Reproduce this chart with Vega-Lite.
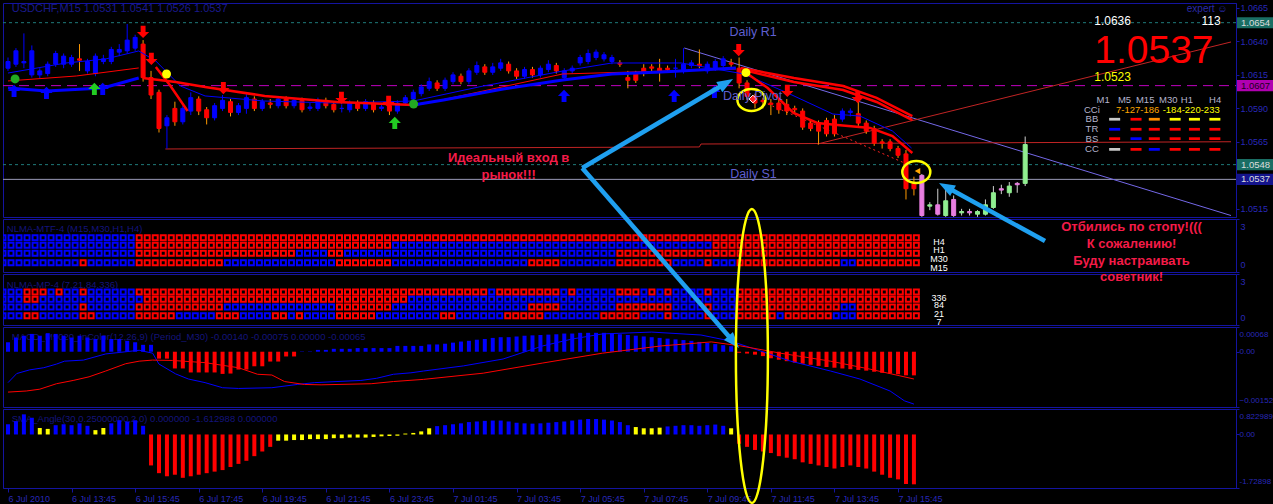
{
"$schema":"https://vega.github.io/schema/vega-lite/v6.json",
"background":"#000000",
"padding":{"left":1,"top":2,"right":0,"bottom":0},
"bounds":"flush",
"spacing":2,
"resolve":{"scale":{"x":"independent","y":"independent"}},
"config":{
 "view":{"stroke":"#1414a0","strokeWidth":1},
 "axis":{"domainColor":"#1414a0","tickColor":"#1414a0","labelColor":"#2828b8","labelFont":"Liberation Sans","labelFontSize":9,"grid":false,"tickSize":3,"labelPadding":1,"labelOverlap":false,"labelBound":false},
 "text":{"font":"Liberation Sans"},
 "legend":{"disable":true}
},
"datasets":{
"bars":[
{"i":0,"o":1.0620,"h":1.0628,"l":1.0618,"c":1.0625,"m":0.00026,"a":0.33,"H4":"B","H1":"B","M30":"B","M15":"B","P336":"B","P84":"B","P21":"B","P7":"B"},
{"i":1,"o":1.0623,"h":1.0635,"l":1.0621,"c":1.0633,"m":0.00039,"a":0.43,"H4":"B","H1":"B","M30":"B","M15":"B","P336":"B","P84":"B","P21":"B","P7":"B"},
{"i":2,"o":1.0624,"h":1.0646,"l":1.0620,"c":1.0625,"m":0.00044,"a":0.65,"H4":"B","H1":"B","M30":"B","M15":"B","P336":"B","P84":"B","P21":"B","P7":"B"},
{"i":3,"o":1.0615,"h":1.0637,"l":1.0613,"c":1.0633,"m":0.00049,"a":0.54,"H4":"B","H1":"B","M30":"B","M15":"B","P336":"R","P84":"R","P21":"B","P7":"R"},
{"i":4,"o":1.0615,"h":1.0620,"l":1.0612,"c":1.0618,"m":0.00044,"a":0.21,"H4":"B","H1":"B","M30":"B","M15":"B","P336":"R","P84":"R","P21":"B","P7":"R"},
{"i":5,"o":1.0616,"h":1.0625,"l":1.0614,"c":1.0623,"m":0.00051,"a":0.18,"H4":"B","H1":"B","M30":"B","M15":"B","P336":"R","P84":"B","P21":"B","P7":"B"},
{"i":6,"o":1.0623,"h":1.0633,"l":1.0621,"c":1.0631,"m":0.00049,"a":0.30,"H4":"B","H1":"B","M30":"B","M15":"B","P336":"B","P84":"B","P21":"B","P7":"B"},
{"i":7,"o":1.0623,"h":1.0631,"l":1.0620,"c":1.0629,"m":0.00044,"a":0.33,"H4":"B","H1":"B","M30":"B","M15":"B","P336":"R","P84":"B","P21":"B","P7":"B"},
{"i":8,"o":1.0623,"h":1.0630,"l":1.0621,"c":1.0628,"m":0.00039,"a":0.30,"H4":"B","H1":"B","M30":"B","M15":"B","P336":"B","P84":"B","P21":"B","P7":"B"},
{"i":9,"o":1.0627,"h":1.0638,"l":1.0618,"c":1.0626,"m":0.00044,"a":0.36,"H4":"B","H1":"B","M30":"B","M15":"B","P336":"B","P84":"B","P21":"B","P7":"B"},
{"i":10,"o":1.0618,"h":1.0627,"l":1.0616,"c":1.0625,"m":0.00039,"a":0.28,"H4":"B","H1":"B","M30":"B","M15":"R","P336":"R","P84":"B","P21":"R","P7":"R"},
{"i":11,"o":1.0616,"h":1.0631,"l":1.0614,"c":1.0629,"m":0.00035,"a":0.14,"H4":"B","H1":"B","M30":"B","M15":"B","P336":"B","P84":"B","P21":"B","P7":"R"},
{"i":12,"o":1.0625,"h":1.0630,"l":1.0623,"c":1.0627,"m":0.00044,"a":0.21,"H4":"B","H1":"B","M30":"B","M15":"B","P336":"B","P84":"B","P21":"B","P7":"B"},
{"i":13,"o":1.0625,"h":1.0636,"l":1.0623,"c":1.0634,"m":0.00035,"a":0.36,"H4":"B","H1":"B","M30":"B","M15":"B","P336":"B","P84":"B","P21":"B","P7":"B"},
{"i":14,"o":1.0632,"h":1.0638,"l":1.0629,"c":1.0634,"m":0.00035,"a":0.46,"H4":"B","H1":"B","M30":"B","M15":"B","P336":"B","P84":"B","P21":"B","P7":"B"},
{"i":15,"o":1.0633,"h":1.0653,"l":1.0631,"c":1.0641,"m":0.00030,"a":0.42,"H4":"B","H1":"B","M30":"B","M15":"B","P336":"B","P84":"B","P21":"B","P7":"B"},
{"i":16,"o":1.0635,"h":1.0645,"l":1.0633,"c":1.0643,"m":0.00026,"a":0.46,"H4":"B","H1":"B","M30":"B","M15":"B","P336":"B","P84":"B","P21":"B","P7":"B"},
{"i":17,"o":1.0638,"h":1.0641,"l":1.0610,"c":1.0613,"m":0.00019,"a":0.28,"H4":"R","H1":"R","M30":"R","M15":"R","P336":"R","P84":"B","P21":"R","P7":"R"},
{"i":18,"o":1.0613,"h":1.0618,"l":1.0597,"c":1.0600,"m":0.00019,"a":-1.0,"H4":"R","H1":"R","M30":"R","M15":"R","P336":"R","P84":"R","P21":"R","P7":"R"},
{"i":19,"o":1.0602,"h":1.0604,"l":1.0572,"c":1.0575,"m":-0.00019,"a":-1.25,"H4":"R","H1":"R","M30":"R","M15":"R","P336":"R","P84":"R","P21":"R","P7":"R"},
{"i":20,"o":1.0577,"h":1.0585,"l":1.0560,"c":1.0583,"m":-0.00019,"a":-1.35,"H4":"R","H1":"R","M30":"R","M15":"R","P336":"R","P84":"R","P21":"R","P7":"R"},
{"i":21,"o":1.0590,"h":1.0595,"l":1.0577,"c":1.0580,"m":-0.00046,"a":-1.3,"H4":"R","H1":"R","M30":"R","M15":"R","P336":"R","P84":"R","P21":"R","P7":"R"},
{"i":22,"o":1.0580,"h":1.0592,"l":1.0578,"c":1.0590,"m":-0.00046,"a":-1.4,"H4":"R","H1":"R","M30":"R","M15":"R","P336":"R","P84":"R","P21":"R","P7":"B"},
{"i":23,"o":1.0588,"h":1.0602,"l":1.0585,"c":1.0598,"m":-0.00057,"a":-1.35,"H4":"R","H1":"R","M30":"R","M15":"R","P336":"R","P84":"R","P21":"R","P7":"B"},
{"i":24,"o":1.0597,"h":1.0599,"l":1.0585,"c":1.0588,"m":-0.00057,"a":-1.3,"H4":"R","H1":"R","M30":"R","M15":"R","P336":"R","P84":"R","P21":"R","P7":"B"},
{"i":25,"o":1.0589,"h":1.0591,"l":1.0578,"c":1.0583,"m":-0.00057,"a":-1.25,"H4":"R","H1":"R","M30":"R","M15":"R","P336":"R","P84":"R","P21":"R","P7":"B"},
{"i":26,"o":1.0583,"h":1.0594,"l":1.0581,"c":1.0592,"m":-0.00057,"a":-1.2,"H4":"R","H1":"R","M30":"R","M15":"R","P336":"R","P84":"R","P21":"R","P7":"B"},
{"i":27,"o":1.0590,"h":1.0600,"l":1.0588,"c":1.0596,"m":-0.00061,"a":-1.15,"H4":"R","H1":"R","M30":"R","M15":"R","P336":"R","P84":"R","P21":"R","P7":"R"},
{"i":28,"o":1.0595,"h":1.0597,"l":1.0584,"c":1.0587,"m":-0.00060,"a":-1.05,"H4":"R","H1":"R","M30":"R","M15":"B","P336":"R","P84":"R","P21":"B","P7":"R"},
{"i":29,"o":1.0587,"h":1.0594,"l":1.0585,"c":1.0592,"m":-0.00049,"a":-0.95,"H4":"R","H1":"R","M30":"R","M15":"B","P336":"R","P84":"R","P21":"B","P7":"R"},
{"i":30,"o":1.0590,"h":1.0601,"l":1.0586,"c":1.0598,"m":-0.00049,"a":-0.85,"H4":"R","H1":"R","M30":"R","M15":"B","P336":"R","P84":"R","P21":"B","P7":"B"},
{"i":31,"o":1.0597,"h":1.0599,"l":1.0588,"c":1.0590,"m":-0.00040,"a":-0.7,"H4":"R","H1":"R","M30":"R","M15":"B","P336":"R","P84":"R","P21":"B","P7":"B"},
{"i":32,"o":1.0590,"h":1.0597,"l":1.0588,"c":1.0595,"m":-0.00040,"a":-0.55,"H4":"R","H1":"R","M30":"R","M15":"B","P336":"R","P84":"R","P21":"B","P7":"B"},
{"i":33,"o":1.0594,"h":1.0597,"l":1.0590,"c":1.0593,"m":-0.00027,"a":-0.4,"H4":"R","H1":"R","M30":"R","M15":"B","P336":"R","P84":"R","P21":"B","P7":"B"},
{"i":34,"o":1.0592,"h":1.0599,"l":1.0590,"c":1.0597,"m":-0.00027,"a":-0.2,"H4":"R","H1":"R","M30":"R","M15":"B","P336":"R","P84":"R","P21":"B","P7":"R"},
{"i":35,"o":1.0597,"h":1.0599,"l":1.0590,"c":1.0592,"m":-0.00013,"a":-0.2,"H4":"R","H1":"R","M30":"R","M15":"B","P336":"R","P84":"R","P21":"B","P7":"R"},
{"i":36,"o":1.0592,"h":1.0598,"l":1.0590,"c":1.0596,"m":-0.00013,"a":-0.18,"H4":"R","H1":"R","M30":"R","M15":"B","P336":"R","P84":"R","P21":"B","P7":"B"},
{"i":37,"o":1.0596,"h":1.0598,"l":1.0587,"c":1.0589,"m":0.00001,"a":-0.18,"H4":"R","H1":"R","M30":"B","M15":"B","P336":"R","P84":"R","P21":"B","P7":"R"},
{"i":38,"o":1.0590,"h":1.0594,"l":1.0588,"c":1.0591,"m":0.00001,"a":-0.15,"H4":"R","H1":"R","M30":"B","M15":"B","P336":"R","P84":"R","P21":"B","P7":"B"},
{"i":39,"o":1.0590,"h":1.0598,"l":1.0588,"c":1.0596,"m":0.00005,"a":-0.15,"H4":"R","H1":"R","M30":"B","M15":"B","P336":"R","P84":"R","P21":"B","P7":"B"},
{"i":40,"o":1.0596,"h":1.0598,"l":1.0590,"c":1.0592,"m":0.00005,"a":-0.15,"H4":"R","H1":"R","M30":"B","M15":"B","P336":"R","P84":"R","P21":"B","P7":"B"},
{"i":41,"o":1.0593,"h":1.0595,"l":1.0587,"c":1.0589,"m":0.00008,"a":-0.12,"H4":"R","H1":"R","M30":"R","M15":"B","P336":"R","P84":"R","P21":"B","P7":"B"},
{"i":42,"o":1.0590,"h":1.0593,"l":1.0587,"c":1.0590,"m":0.00008,"a":-0.12,"H4":"R","H1":"R","M30":"R","M15":"R","P336":"R","P84":"R","P21":"R","P7":"R"},
{"i":43,"o":1.0589,"h":1.0596,"l":1.0587,"c":1.0594,"m":0.00008,"a":-0.1,"H4":"R","H1":"R","M30":"B","M15":"R","P336":"R","P84":"R","P21":"R","P7":"R"},
{"i":44,"o":1.0594,"h":1.0596,"l":1.0588,"c":1.0590,"m":0.00010,"a":-0.1,"H4":"R","H1":"R","M30":"B","M15":"R","P336":"R","P84":"R","P21":"R","P7":"R"},
{"i":45,"o":1.0590,"h":1.0597,"l":1.0588,"c":1.0595,"m":0.00010,"a":-0.1,"H4":"R","H1":"R","M30":"B","M15":"R","P336":"R","P84":"R","P21":"R","P7":"R"},
{"i":46,"o":1.0594,"h":1.0596,"l":1.0587,"c":1.0589,"m":0.00010,"a":-0.08,"H4":"R","H1":"R","M30":"B","M15":"R","P336":"R","P84":"R","P21":"R","P7":"R"},
{"i":47,"o":1.0590,"h":1.0593,"l":1.0588,"c":1.0591,"m":0.00010,"a":-0.06,"H4":"R","H1":"R","M30":"B","M15":"R","P336":"R","P84":"R","P21":"R","P7":"B"},
{"i":48,"o":1.0592,"h":1.0594,"l":1.0585,"c":1.0588,"m":0.00010,"a":-0.05,"H4":"R","H1":"R","M30":"B","M15":"R","P336":"R","P84":"R","P21":"R","P7":"B"},
{"i":49,"o":1.0588,"h":1.0596,"l":1.0586,"c":1.0594,"m":0.00016,"a":-0.04,"H4":"R","H1":"B","M30":"B","M15":"B","P336":"R","P84":"R","P21":"B","P7":"B"},
{"i":50,"o":1.0594,"h":1.0600,"l":1.0592,"c":1.0598,"m":0.00016,"a":0.03,"H4":"R","H1":"B","M30":"B","M15":"B","P336":"R","P84":"R","P21":"B","P7":"B"},
{"i":51,"o":1.0597,"h":1.0604,"l":1.0595,"c":1.0602,"m":0.00016,"a":0.05,"H4":"R","H1":"B","M30":"B","M15":"B","P336":"R","P84":"B","P21":"B","P7":"B"},
{"i":52,"o":1.0601,"h":1.0608,"l":1.0599,"c":1.0606,"m":0.00016,"a":0.10,"H4":"R","H1":"B","M30":"B","M15":"B","P336":"R","P84":"B","P21":"B","P7":"B"},
{"i":53,"o":1.0605,"h":1.0613,"l":1.0603,"c":1.0610,"m":0.00020,"a":0.20,"H4":"R","H1":"B","M30":"B","M15":"B","P336":"R","P84":"B","P21":"B","P7":"B"},
{"i":54,"o":1.0609,"h":1.0611,"l":1.0603,"c":1.0605,"m":0.00020,"a":0.27,"H4":"R","H1":"B","M30":"B","M15":"B","P336":"R","P84":"B","P21":"B","P7":"B"},
{"i":55,"o":1.0605,"h":1.0613,"l":1.0603,"c":1.0611,"m":0.00022,"a":0.30,"H4":"R","H1":"B","M30":"B","M15":"B","P336":"R","P84":"B","P21":"B","P7":"R"},
{"i":56,"o":1.0610,"h":1.0617,"l":1.0608,"c":1.0615,"m":0.00025,"a":0.33,"H4":"R","H1":"B","M30":"B","M15":"B","P336":"R","P84":"B","P21":"B","P7":"R"},
{"i":57,"o":1.0614,"h":1.0616,"l":1.0608,"c":1.0610,"m":0.00028,"a":0.36,"H4":"R","H1":"B","M30":"B","M15":"B","P336":"R","P84":"B","P21":"B","P7":"B"},
{"i":58,"o":1.0610,"h":1.0620,"l":1.0608,"c":1.0618,"m":0.00030,"a":0.40,"H4":"R","H1":"B","M30":"B","M15":"B","P336":"R","P84":"B","P21":"B","P7":"B"},
{"i":59,"o":1.0617,"h":1.0625,"l":1.0615,"c":1.0622,"m":0.00033,"a":0.42,"H4":"R","H1":"B","M30":"B","M15":"B","P336":"R","P84":"B","P21":"B","P7":"B"},
{"i":60,"o":1.0621,"h":1.0623,"l":1.0615,"c":1.0617,"m":0.00035,"a":0.44,"H4":"R","H1":"B","M30":"B","M15":"B","P336":"R","P84":"B","P21":"B","P7":"B"},
{"i":61,"o":1.0617,"h":1.0624,"l":1.0615,"c":1.0621,"m":0.00038,"a":0.45,"H4":"R","H1":"B","M30":"B","M15":"B","P336":"B","P84":"B","P21":"B","P7":"B"},
{"i":62,"o":1.0620,"h":1.0627,"l":1.0618,"c":1.0624,"m":0.00040,"a":0.45,"H4":"R","H1":"B","M30":"B","M15":"B","P336":"R","P84":"B","P21":"B","P7":"B"},
{"i":63,"o":1.0623,"h":1.0625,"l":1.0616,"c":1.0618,"m":0.00040,"a":0.42,"H4":"R","H1":"B","M30":"B","M15":"B","P336":"R","P84":"B","P21":"B","P7":"R"},
{"i":64,"o":1.0618,"h":1.0620,"l":1.0612,"c":1.0614,"m":0.00042,"a":0.38,"H4":"R","H1":"B","M30":"B","M15":"B","P336":"R","P84":"B","P21":"B","P7":"R"},
{"i":65,"o":1.0614,"h":1.0621,"l":1.0612,"c":1.0619,"m":0.00044,"a":0.36,"H4":"R","H1":"B","M30":"B","M15":"B","P336":"R","P84":"B","P21":"B","P7":"R"},
{"i":66,"o":1.0619,"h":1.0621,"l":1.0613,"c":1.0615,"m":0.00045,"a":0.35,"H4":"R","H1":"B","M30":"B","M15":"R","P336":"R","P84":"B","P21":"R","P7":"R"},
{"i":67,"o":1.0615,"h":1.0622,"l":1.0613,"c":1.0620,"m":0.00046,"a":0.36,"H4":"R","H1":"B","M30":"B","M15":"R","P336":"R","P84":"B","P21":"R","P7":"R"},
{"i":68,"o":1.0619,"h":1.0626,"l":1.0617,"c":1.0623,"m":0.00047,"a":0.38,"H4":"R","H1":"B","M30":"B","M15":"R","P336":"R","P84":"B","P21":"R","P7":"B"},
{"i":69,"o":1.0622,"h":1.0624,"l":1.0616,"c":1.0618,"m":0.00048,"a":0.40,"H4":"R","H1":"B","M30":"B","M15":"R","P336":"R","P84":"B","P21":"R","P7":"B"},
{"i":70,"o":1.0613,"h":1.0620,"l":1.0611,"c":1.0618,"m":0.00050,"a":0.42,"H4":"R","H1":"B","M30":"B","M15":"B","P336":"B","P84":"B","P21":"B","P7":"B"},
{"i":71,"o":1.0618,"h":1.0622,"l":1.0616,"c":1.0620,"m":0.00050,"a":0.45,"H4":"R","H1":"B","M30":"B","M15":"B","P336":"R","P84":"B","P21":"B","P7":"B"},
{"i":72,"o":1.0624,"h":1.0630,"l":1.0622,"c":1.0628,"m":0.00052,"a":0.48,"H4":"R","H1":"B","M30":"B","M15":"B","P336":"B","P84":"B","P21":"B","P7":"B"},
{"i":73,"o":1.0625,"h":1.0634,"l":1.0623,"c":1.0631,"m":0.00052,"a":0.50,"H4":"R","H1":"B","M30":"B","M15":"B","P336":"B","P84":"B","P21":"B","P7":"B"},
{"i":74,"o":1.0628,"h":1.0634,"l":1.0626,"c":1.0632,"m":0.00052,"a":0.50,"H4":"R","H1":"B","M30":"B","M15":"B","P336":"B","P84":"B","P21":"B","P7":"B"},
{"i":75,"o":1.0627,"h":1.0632,"l":1.0625,"c":1.0630,"m":0.00052,"a":0.48,"H4":"R","H1":"B","M30":"B","M15":"B","P336":"B","P84":"B","P21":"B","P7":"R"},
{"i":76,"o":1.0625,"h":1.0630,"l":1.0623,"c":1.0628,"m":0.00050,"a":0.45,"H4":"R","H1":"B","M30":"B","M15":"B","P336":"B","P84":"B","P21":"B","P7":"R"},
{"i":77,"o":1.0624,"h":1.0626,"l":1.0621,"c":1.0623,"m":0.00048,"a":0.40,"H4":"R","H1":"B","M30":"R","M15":"R","P336":"R","P84":"B","P21":"R","P7":"R"},
{"i":78,"o":1.0613,"h":1.0618,"l":1.0605,"c":1.0611,"m":0.00046,"a":0.30,"H4":"R","H1":"B","M30":"R","M15":"R","P336":"R","P84":"B","P21":"R","P7":"R"},
{"i":79,"o":1.0616,"h":1.0618,"l":1.0609,"c":1.0611,"m":0.00044,"a":0.24,"H4":"R","H1":"B","M30":"R","M15":"R","P336":"R","P84":"B","P21":"R","P7":"R"},
{"i":80,"o":1.0620,"h":1.0623,"l":1.0614,"c":1.0617,"m":0.00042,"a":0.20,"H4":"R","H1":"B","M30":"R","M15":"R","P336":"B","P84":"B","P21":"R","P7":"B"},
{"i":81,"o":1.0621,"h":1.0623,"l":1.0617,"c":1.0620,"m":0.00040,"a":0.20,"H4":"R","H1":"B","M30":"R","M15":"R","P336":"R","P84":"B","P21":"R","P7":"B"},
{"i":82,"o":1.0620,"h":1.0627,"l":1.0610,"c":1.0618,"m":0.00038,"a":0.22,"H4":"R","H1":"B","M30":"R","M15":"R","P336":"B","P84":"B","P21":"R","P7":"B"},
{"i":83,"o":1.0620,"h":1.0622,"l":1.0617,"c":1.0619,"m":0.00036,"a":0.26,"H4":"R","H1":"B","M30":"R","M15":"R","P336":"R","P84":"B","P21":"R","P7":"R"},
{"i":84,"o":1.0620,"h":1.0627,"l":1.0613,"c":1.0620,"m":0.00034,"a":0.28,"H4":"R","H1":"B","M30":"R","M15":"B","P336":"B","P84":"B","P21":"B","P7":"B"},
{"i":85,"o":1.0619,"h":1.0635,"l":1.0616,"c":1.0623,"m":0.00032,"a":0.30,"H4":"R","H1":"B","M30":"R","M15":"B","P336":"B","P84":"B","P21":"B","P7":"B"},
{"i":86,"o":1.0622,"h":1.0626,"l":1.0620,"c":1.0624,"m":0.00030,"a":0.30,"H4":"R","H1":"B","M30":"R","M15":"B","P336":"B","P84":"B","P21":"B","P7":"B"},
{"i":87,"o":1.0623,"h":1.0634,"l":1.0620,"c":1.0622,"m":0.00027,"a":0.28,"H4":"R","H1":"B","M30":"R","M15":"B","P336":"B","P84":"B","P21":"B","P7":"B"},
{"i":88,"o":1.0618,"h":1.0625,"l":1.0616,"c":1.0623,"m":0.00024,"a":0.30,"H4":"R","H1":"B","M30":"R","M15":"R","P336":"R","P84":"B","P21":"R","P7":"R"},
{"i":89,"o":1.0620,"h":1.0627,"l":1.0618,"c":1.0625,"m":0.00021,"a":0.32,"H4":"R","H1":"R","M30":"R","M15":"B","P336":"B","P84":"B","P21":"B","P7":"B"},
{"i":90,"o":1.0622,"h":1.0629,"l":1.0620,"c":1.0627,"m":0.00018,"a":0.28,"H4":"R","H1":"R","M30":"R","M15":"B","P336":"B","P84":"B","P21":"B","P7":"B"},
{"i":91,"o":1.0624,"h":1.0627,"l":1.0621,"c":1.0623,"m":0.00015,"a":0.20,"H4":"R","H1":"R","M30":"R","M15":"B","P336":"B","P84":"B","P21":"B","P7":"B"},
{"i":92,"o":1.0620,"h":1.0628,"l":1.0605,"c":1.0609,"m":-0.00003,"a":-0.3,"H4":"R","H1":"R","M30":"R","M15":"R","P336":"R","P84":"R","P21":"R","P7":"R"},
{"i":93,"o":1.0609,"h":1.0611,"l":1.0596,"c":1.0599,"m":-0.00005,"a":-0.4,"H4":"R","H1":"R","M30":"R","M15":"R","P336":"R","P84":"R","P21":"R","P7":"R"},
{"i":94,"o":1.0599,"h":1.0601,"l":1.0590,"c":1.0594,"m":-0.00008,"a":-0.5,"H4":"R","H1":"R","M30":"R","M15":"R","P336":"R","P84":"R","P21":"R","P7":"R"},
{"i":95,"o":1.0596,"h":1.0598,"l":1.0590,"c":1.0595,"m":-0.00012,"a":-0.55,"H4":"R","H1":"R","M30":"R","M15":"R","P336":"R","P84":"R","P21":"R","P7":"R"},
{"i":96,"o":1.0594,"h":1.0597,"l":1.0585,"c":1.0593,"m":-0.00018,"a":-0.6,"H4":"R","H1":"R","M30":"R","M15":"R","P336":"R","P84":"R","P21":"R","P7":"R"},
{"i":97,"o":1.0594,"h":1.0597,"l":1.0586,"c":1.0589,"m":-0.00022,"a":-0.7,"H4":"R","H1":"R","M30":"R","M15":"R","P336":"R","P84":"R","P21":"R","P7":"B"},
{"i":98,"o":1.0593,"h":1.0597,"l":1.0585,"c":1.0588,"m":-0.00026,"a":-0.75,"H4":"R","H1":"R","M30":"R","M15":"R","P336":"R","P84":"R","P21":"R","P7":"R"},
{"i":99,"o":1.0590,"h":1.0592,"l":1.0586,"c":1.0589,"m":-0.00030,"a":-0.8,"H4":"R","H1":"R","M30":"R","M15":"R","P336":"R","P84":"R","P21":"R","P7":"R"},
{"i":100,"o":1.0588,"h":1.0590,"l":1.0574,"c":1.0576,"m":-0.00033,"a":-0.9,"H4":"R","H1":"R","M30":"R","M15":"R","P336":"R","P84":"R","P21":"R","P7":"R"},
{"i":101,"o":1.0579,"h":1.0581,"l":1.0573,"c":1.0575,"m":-0.00036,"a":-0.95,"H4":"R","H1":"R","M30":"R","M15":"R","P336":"R","P84":"R","P21":"R","P7":"R"},
{"i":102,"o":1.0579,"h":1.0581,"l":1.0563,"c":1.0573,"m":-0.00039,"a":-1.0,"H4":"R","H1":"R","M30":"R","M15":"R","P336":"R","P84":"R","P21":"R","P7":"R"},
{"i":103,"o":1.0581,"h":1.0583,"l":1.0569,"c":1.0571,"m":-0.00042,"a":-1.05,"H4":"R","H1":"R","M30":"R","M15":"R","P336":"R","P84":"R","P21":"R","P7":"R"},
{"i":104,"o":1.0582,"h":1.0585,"l":1.0569,"c":1.0571,"m":-0.00044,"a":-1.1,"H4":"R","H1":"R","M30":"R","M15":"R","P336":"R","P84":"R","P21":"R","P7":"B"},
{"i":105,"o":1.0582,"h":1.0590,"l":1.0580,"c":1.0588,"m":-0.00046,"a":-1.05,"H4":"R","H1":"R","M30":"R","M15":"B","P336":"R","P84":"R","P21":"B","P7":"B"},
{"i":106,"o":1.0587,"h":1.0590,"l":1.0584,"c":1.0588,"m":-0.00048,"a":-1.0,"H4":"R","H1":"R","M30":"R","M15":"B","P336":"R","P84":"R","P21":"B","P7":"B"},
{"i":107,"o":1.0586,"h":1.0598,"l":1.0577,"c":1.0579,"m":-0.00050,"a":-1.05,"H4":"R","H1":"R","M30":"R","M15":"R","P336":"R","P84":"R","P21":"R","P7":"R"},
{"i":108,"o":1.0579,"h":1.0581,"l":1.0571,"c":1.0573,"m":-0.00052,"a":-1.1,"H4":"R","H1":"R","M30":"R","M15":"R","P336":"R","P84":"R","P21":"R","P7":"R"},
{"i":109,"o":1.0575,"h":1.0577,"l":1.0562,"c":1.0564,"m":-0.00055,"a":-1.2,"H4":"R","H1":"R","M30":"R","M15":"R","P336":"R","P84":"R","P21":"R","P7":"R"},
{"i":110,"o":1.0565,"h":1.0567,"l":1.0560,"c":1.0564,"m":-0.00058,"a":-1.3,"H4":"R","H1":"R","M30":"R","M15":"R","P336":"R","P84":"R","P21":"R","P7":"R"},
{"i":111,"o":1.0565,"h":1.0567,"l":1.0558,"c":1.0560,"m":-0.00060,"a":-1.4,"H4":"R","H1":"R","M30":"R","M15":"R","P336":"R","P84":"R","P21":"R","P7":"R"},
{"i":112,"o":1.0560,"h":1.0562,"l":1.0553,"c":1.0555,"m":-0.00062,"a":-1.45,"H4":"R","H1":"R","M30":"R","M15":"R","P336":"R","P84":"R","P21":"R","P7":"R"},
{"i":113,"o":1.0556,"h":1.0559,"l":1.0522,"c":1.0530,"m":-0.00065,"a":-1.6,"H4":"R","H1":"R","M30":"R","M15":"R","P336":"R","P84":"R","P21":"R","P7":"R"},
{"i":114,"o":1.0534,"h":1.0539,"l":1.0525,"c":1.0530,"m":-0.00065,"a":-1.61,"H4":"R","H1":"R","M30":"R","M15":"R","P336":"R","P84":"R","P21":"R","P7":"R"},
{"i":115,"o":1.0540,"h":1.0541,"l":1.0509,"c":1.0510,"g":"b"},
{"i":116,"o":1.0517,"h":1.0520,"l":1.0514,"c":1.0518,"g":"b"},
{"i":117,"o":1.0518,"h":1.0530,"l":1.0510,"c":1.0511,"g":"b"},
{"i":118,"o":1.0510,"h":1.0530,"l":1.0509,"c":1.0521,"g":"b"},
{"i":119,"o":1.0522,"h":1.0525,"l":1.0509,"c":1.0510,"g":"b"},
{"i":120,"o":1.0512,"h":1.0515,"l":1.0510,"c":1.0513,"g":"b"},
{"i":121,"o":1.0513,"h":1.0515,"l":1.0510,"c":1.0512,"g":"b"},
{"i":122,"o":1.0511,"h":1.0514,"l":1.0509,"c":1.0513,"g":"b"},
{"i":123,"o":1.0511,"h":1.0522,"l":1.0510,"c":1.0518,"g":"b"},
{"i":124,"o":1.0516,"h":1.0532,"l":1.0515,"c":1.0527,"g":"b"},
{"i":125,"o":1.0530,"h":1.0533,"l":1.0526,"c":1.0529,"g":"b"},
{"i":126,"o":1.0527,"h":1.0535,"l":1.0524,"c":1.0532,"g":"b"},
{"i":127,"o":1.0534,"h":1.0535,"l":1.0527,"c":1.0533,"g":"b"},
{"i":128,"o":1.0534,"h":1.0569,"l":1.0532,"c":1.0563,"g":"b"}
],
"rows":[{"key":"H4","lv":1.94},{"key":"H1","lv":1.51},{"key":"M30","lv":1.06},{"key":"M15","lv":0.53},{"key":"P336","lv":1.94},{"key":"P84","lv":1.51},{"key":"P21","lv":1.06},{"key":"P7","lv":0.55}],
"levels":[{"name":"hi","p":1.0654},{"name":"open","p":1.0607},{"name":"lo","p":1.0548},{"name":"bid","p":1.0537}],
"ml":[
{"id":"A","i":0,"p":1.06052},{"id":"A","i":4.85,"p":1.0603},{"id":"A","i":11.96,"p":1.06052},{"id":"A","i":16.45,"p":1.06127},
{"id":"B","i":16.95,"p":1.06127},{"id":"B","i":21.1,"p":1.06097},{"id":"B","i":24.8,"p":1.0606},{"id":"B","i":32.3,"p":1.05993},{"id":"B","i":41.4,"p":1.05948},{"id":"B","i":51.0,"p":1.05925},
{"id":"C","i":51.0,"p":1.05925},{"id":"C","i":54.8,"p":1.05963},{"id":"C","i":62.3,"p":1.06045},{"id":"C","i":69.8,"p":1.06112},{"id":"C","i":76.0,"p":1.06157},{"id":"C","i":82.2,"p":1.06172},{"id":"C","i":91.6,"p":1.06202},
{"id":"D","i":92.2,"p":1.06202},{"id":"D","i":98.9,"p":1.06127},{"id":"D","i":105.1,"p":1.06067},{"id":"D","i":109.3,"p":1.05978},{"id":"D","i":113.8,"p":1.05843},
{"id":"D2","i":93.0,"p":1.0618},{"id":"D2","i":98.9,"p":1.06097},{"id":"D2","i":105.1,"p":1.06037},{"id":"D2","i":109.3,"p":1.05948},{"id":"D2","i":113.8,"p":1.05813},
{"id":"E","i":93.1,"p":1.06157},{"id":"E","i":95.6,"p":1.06052},{"id":"E","i":98.85,"p":1.05866},{"id":"E","i":101.85,"p":1.05791},{"id":"E","i":104.35,"p":1.05776},{"id":"E","i":108.5,"p":1.05754},{"id":"E","i":111.3,"p":1.05694},{"id":"E","i":113.8,"p":1.05567},
{"id":"F","i":18.6,"p":1.06209},{"id":"F","i":20.45,"p":1.06067},{"id":"F","i":22.6,"p":1.05881},
{"id":"G","i":0,"p":1.06164},{"id":"G","i":7.3,"p":1.06239},{"id":"G","i":12.3,"p":1.06269},{"id":"G","i":16.45,"p":1.06329},{"id":"G","i":18.6,"p":1.06254},{"id":"G","i":21.7,"p":1.06067},{"id":"G","i":24.8,"p":1.05993},{"id":"G","i":32.3,"p":1.05955},{"id":"G","i":41.0,"p":1.0594},{"id":"G","i":51.0,"p":1.05955},{"id":"G","i":59.8,"p":1.06067},{"id":"G","i":69.8,"p":1.06179},{"id":"G","i":76.0,"p":1.06239},{"id":"G","i":84.7,"p":1.06239},{"id":"G","i":92.6,"p":1.06157},{"id":"G","i":98.1,"p":1.06015},{"id":"G","i":103.8,"p":1.05858},{"id":"G","i":107.2,"p":1.05843},{"id":"G","i":111.3,"p":1.05731},{"id":"G","i":113.7,"p":1.05604},
{"id":"H1","i":0,"p":1.06105},{"id":"H1","i":8.6,"p":1.06142},{"id":"H1","i":16.45,"p":1.06202},
{"id":"H2","i":51.0,"p":1.05918},{"id":"H2","i":69.8,"p":1.06157},{"id":"H2","i":91.6,"p":1.06194},
{"id":"I","i":85.1,"p":1.06351},{"id":"I","i":153.9,"p":1.051},
{"id":"J","i":101.85,"p":1.05634},{"id":"J","i":153.9,"p":1.06396},
{"id":"K","i":19.8,"p":1.05597},{"id":"K","i":87.0,"p":1.05612},{"id":"K","i":87.2,"p":1.05634},{"id":"K","i":153.9,"p":1.05651},
{"id":"L","i":95.6,"p":1.05933},{"id":"L","i":113.1,"p":1.05485}
],
"sig":[
{"k":"dn","i":17.0,"p":1.06471},{"k":"dn","i":18.04,"p":1.06269},{"k":"dn","i":27.1,"p":1.06052},{"k":"dn","i":41.96,"p":1.05978},{"k":"dn","i":47.9,"p":1.05948},{"k":"dn","i":91.95,"p":1.06336},{"k":"dn","i":98.07,"p":1.0603},{"k":"dn","i":106.93,"p":1.05985},
{"k":"up","i":0.76,"p":1.0603},{"k":"up","i":4.84,"p":1.06015},{"k":"up","i":11.92,"p":1.06045},{"k":"up","i":69.97,"p":1.05993},{"k":"up","i":83.83,"p":1.05993},{"k":"up","i":88.9,"p":1.06023},
{"k":"upg","i":10.87,"p":1.06045},{"k":"upg","i":48.67,"p":1.05791},
{"k":"dotg","i":0.89,"p":1.0612},{"k":"dotg","i":51.04,"p":1.05933},
{"k":"doty","i":19.95,"p":1.06157},{"k":"doty","i":92.86,"p":1.06167}
],
"dash":[
{"i":139.26,"p":1.05819,"s":"n"},{"i":141.95,"p":1.05819,"s":"d"},{"i":144.25,"p":1.05819,"s":"o"},{"i":146.87,"p":1.05819,"s":"y"},{"i":149.3,"p":1.05819,"s":"y"},{"i":151.87,"p":1.05819,"s":"y"},
{"i":139.26,"p":1.05744,"s":"u"},{"i":141.95,"p":1.05744,"s":"d"},{"i":144.25,"p":1.05744,"s":"d"},{"i":146.87,"p":1.05744,"s":"d"},{"i":149.3,"p":1.05744,"s":"d"},{"i":151.87,"p":1.05744,"s":"d"},
{"i":139.26,"p":1.05674,"s":"d"},{"i":141.95,"p":1.05674,"s":"u"},{"i":144.25,"p":1.05674,"s":"d"},{"i":146.87,"p":1.05674,"s":"d"},{"i":149.3,"p":1.05674,"s":"d"},{"i":151.87,"p":1.05674,"s":"d"},
{"i":139.26,"p":1.05594,"s":"n"},{"i":141.95,"p":1.05594,"s":"d"},{"i":144.25,"p":1.05594,"s":"u"},{"i":146.87,"p":1.05594,"s":"d"},{"i":149.3,"p":1.05594,"s":"d"},{"i":151.87,"p":1.05594,"s":"d"}
],
"mc":[
{"id":"macd","i":0,"v":-0.00085},{"id":"macd","i":1.1,"v":-0.0006},{"id":"macd","i":2.7,"v":-0.0005},{"id":"macd","i":4.5,"v":-0.00044},{"id":"macd","i":6.1,"v":-0.00034},{"id":"macd","i":7.1,"v":-0.00026},{"id":"macd","i":9.5,"v":-0.00023},{"id":"macd","i":12.3,"v":-0.00006},{"id":"macd","i":13.6,"v":-0.00003},{"id":"macd","i":16.5,"v":0.00004},{"id":"macd","i":18.2,"v":-0.00004},{"id":"macd","i":19.0,"v":-0.00034},{"id":"macd","i":21.1,"v":-0.00061},{"id":"macd","i":22.7,"v":-0.00075},{"id":"macd","i":24.8,"v":-0.00085},{"id":"macd","i":27.0,"v":-0.00099},{"id":"macd","i":29.0,"v":-0.00101},{"id":"macd","i":33.2,"v":-0.00099},{"id":"macd","i":36.4,"v":-0.0009},{"id":"macd","i":38.6,"v":-0.00085},{"id":"macd","i":41.4,"v":-0.00082},{"id":"macd","i":44.4,"v":-0.00079},{"id":"macd","i":46.4,"v":-0.00073},{"id":"macd","i":48.5,"v":-0.00062},{"id":"macd","i":50.7,"v":-0.00058},{"id":"macd","i":52.3,"v":-0.00053},{"id":"macd","i":57.3,"v":-0.00039},{"id":"macd","i":62.3,"v":-0.0002},{"id":"macd","i":67.3,"v":0.00016},{"id":"macd","i":71.0,"v":0.00035},{"id":"macd","i":74.8,"v":0.00049},{"id":"macd","i":81.0,"v":0.00054},{"id":"macd","i":87.2,"v":0.00046},{"id":"macd","i":91.0,"v":0.00029},{"id":"macd","i":94.7,"v":0.00002},{"id":"macd","i":98.5,"v":-0.00026},{"id":"macd","i":103.5,"v":-0.00053},{"id":"macd","i":107.2,"v":-0.00075},{"id":"macd","i":111.0,"v":-0.00108},{"id":"macd","i":112.8,"v":-0.00135},{"id":"macd","i":114,"v":-0.00144},
{"id":"sig","i":0,"v":-0.00111},{"id":"sig","i":2.3,"v":-0.00108},{"id":"sig","i":4.0,"v":-0.00103},{"id":"sig","i":6.1,"v":-0.00088},{"id":"sig","i":8.2,"v":-0.00079},{"id":"sig","i":10.2,"v":-0.00069},{"id":"sig","i":12.3,"v":-0.00053},{"id":"sig","i":14.8,"v":-0.00033},{"id":"sig","i":16.5,"v":-0.00026},{"id":"sig","i":18.2,"v":-0.00023},{"id":"sig","i":20.7,"v":-0.00024},{"id":"sig","i":24.8,"v":-0.0003},{"id":"sig","i":29.0,"v":-0.00044},{"id":"sig","i":31.4,"v":-0.00062},{"id":"sig","i":33.2,"v":-0.00064},{"id":"sig","i":34.8,"v":-0.00082},{"id":"sig","i":37.3,"v":-0.0009},{"id":"sig","i":39.4,"v":-0.00091},{"id":"sig","i":45.7,"v":-0.00088},{"id":"sig","i":48.5,"v":-0.00082},{"id":"sig","i":52.3,"v":-0.00076},{"id":"sig","i":59.8,"v":-0.00059},{"id":"sig","i":67.3,"v":-0.00031},{"id":"sig","i":74.8,"v":-0.00004},{"id":"sig","i":82.2,"v":0.00016},{"id":"sig","i":88.5,"v":0.00027},{"id":"sig","i":92.2,"v":0.00016},{"id":"sig","i":97.2,"v":-0.00004},{"id":"sig","i":103.5,"v":-0.00026},{"id":"sig","i":108.5,"v":-0.00048},{"id":"sig","i":114,"v":-0.00075}
]
},
"vconcat":[
{
"width":1233,"height":214,
"encoding":{"x":{"field":"i","type":"quantitative","scale":{"domain":[0,153.9],"nice":false,"zero":false},"axis":null}},
"layer":[
{"data":{"name":"levels"},"mark":{"type":"rule","strokeWidth":1},
 "encoding":{"x":{"value":0},"x2":{"value":"width"},
  "y":{"field":"p","type":"quantitative","scale":{"domain":[1.05089,1.06687],"nice":false,"zero":false},"axis":{"orient":"right","values":[1.0515,1.054,1.0565,1.059,1.0615,1.064,1.0665],"labelExpr":"abs(datum.value-1.054)<0.00001?'':format(datum.value,'.4f')","labelOverlap":false,"title":null}},
  "color":{"condition":[{"test":"datum.name=='open'","value":"#c000c0"},{"test":"datum.name=='bid'","value":"#9a9ab8"}],"value":"#1f7a7a"},
  "strokeDash":{"condition":[{"test":"datum.name=='open'","value":[10,6]},{"test":"datum.name=='bid'","value":[1,0]}],"value":[3,3]}
 }},
{"data":{"name":"ml"},"transform":[{"filter":"datum.id=='I'"}],"mark":{"type":"line","strokeWidth":1,"color":"#7468e8"},
 "encoding":{"y":{"field":"p","type":"quantitative","scale":{"domain":[1.05089,1.06687],"nice":false,"zero":false},"axis":{"orient":"right","values":[1.0515,1.054,1.0565,1.059,1.0615,1.064,1.0665],"labelExpr":"abs(datum.value-1.054)<0.00001?'':format(datum.value,'.4f')","labelOverlap":false,"title":null}},"detail":{"field":"id"}}},
{"data":{"name":"ml"},"transform":[{"filter":"datum.id=='J'||datum.id=='K'"}],"mark":{"type":"line","strokeWidth":1,"color":"#c02424"},
 "encoding":{"y":{"field":"p","type":"quantitative","scale":{"domain":[1.05089,1.06687],"nice":false,"zero":false},"axis":{"orient":"right","values":[1.0515,1.054,1.0565,1.059,1.0615,1.064,1.0665],"labelExpr":"abs(datum.value-1.054)<0.00001?'':format(datum.value,'.4f')","labelOverlap":false,"title":null}},"detail":{"field":"id"}}},
{"data":{"name":"ml"},"transform":[{"filter":"datum.id=='L'"}],"mark":{"type":"line","strokeWidth":1,"color":"#ff2020","strokeDash":[2,3]},
 "encoding":{"y":{"field":"p","type":"quantitative","scale":{"domain":[1.05089,1.06687],"nice":false,"zero":false},"axis":{"orient":"right","values":[1.0515,1.054,1.0565,1.059,1.0615,1.064,1.0665],"labelExpr":"abs(datum.value-1.054)<0.00001?'':format(datum.value,'.4f')","labelOverlap":false,"title":null}}}},
{"data":{"name":"bars"},"mark":{"type":"rule","strokeWidth":1,"clip":true},
 "encoding":{"y":{"field":"l","type":"quantitative","scale":{"domain":[1.05089,1.06687],"nice":false,"zero":false},"axis":{"orient":"right","values":[1.0515,1.054,1.0565,1.059,1.0615,1.064,1.0665],"labelExpr":"abs(datum.value-1.054)<0.00001?'':format(datum.value,'.4f')","labelOverlap":false,"title":null}},"y2":{"field":"h"},
 "color":{"condition":[{"test":"datum.g=='b'","value":"#d0d0d0"},{"test":"datum.c>=datum.o","value":"#0000ff"}],"value":"#ff9900"}}},
{"data":{"name":"bars"},"mark":{"type":"bar","width":4,"strokeWidth":1,"clip":true},
 "encoding":{"y":{"field":"o","type":"quantitative","scale":{"domain":[1.05089,1.06687],"nice":false,"zero":false},"axis":{"orient":"right","values":[1.0515,1.054,1.0565,1.059,1.0615,1.064,1.0665],"labelExpr":"abs(datum.value-1.054)<0.00001?'':format(datum.value,'.4f')","labelOverlap":false,"title":null}},"y2":{"field":"c"},
 "fill":{"condition":[{"test":"datum.g=='b'&&datum.c>=datum.o","value":"#90ee90"},{"test":"datum.g=='b'","value":"#e87ee0"},{"test":"datum.c>=datum.o","value":"#0000ff"}],"value":"#ff0000"},
 "stroke":{"condition":[{"test":"datum.g=='b'&&datum.c>=datum.o","value":"#90ee90"},{"test":"datum.g=='b'","value":"#e87ee0"},{"test":"datum.c>=datum.o","value":"#0000ff"}],"value":"#ff0000"}}},
{"data":{"name":"ml"},"transform":[{"filter":"datum.id=='G'"}],"mark":{"type":"line","strokeWidth":1,"color":"#0000ff"},
 "encoding":{"y":{"field":"p","type":"quantitative","scale":{"domain":[1.05089,1.06687],"nice":false,"zero":false},"axis":{"orient":"right","values":[1.0515,1.054,1.0565,1.059,1.0615,1.064,1.0665],"labelExpr":"abs(datum.value-1.054)<0.00001?'':format(datum.value,'.4f')","labelOverlap":false,"title":null}}}},
{"data":{"name":"ml"},"transform":[{"filter":"datum.id=='H1'||datum.id=='H2'"}],"mark":{"type":"line","strokeWidth":1,"color":"#ff0000"},
 "encoding":{"y":{"field":"p","type":"quantitative","scale":{"domain":[1.05089,1.06687],"nice":false,"zero":false},"axis":{"orient":"right","values":[1.0515,1.054,1.0565,1.059,1.0615,1.064,1.0665],"labelExpr":"abs(datum.value-1.054)<0.00001?'':format(datum.value,'.4f')","labelOverlap":false,"title":null}},"detail":{"field":"id"}}},
{"data":{"name":"ml"},"transform":[{"filter":"datum.id=='A'||datum.id=='C'"}],"mark":{"type":"line","strokeWidth":3,"color":"#0000ff"},
 "encoding":{"y":{"field":"p","type":"quantitative","scale":{"domain":[1.05089,1.06687],"nice":false,"zero":false},"axis":{"orient":"right","values":[1.0515,1.054,1.0565,1.059,1.0615,1.064,1.0665],"labelExpr":"abs(datum.value-1.054)<0.00001?'':format(datum.value,'.4f')","labelOverlap":false,"title":null}},"detail":{"field":"id"}}},
{"data":{"name":"ml"},"transform":[{"filter":"datum.id=='B'||datum.id=='D'||datum.id=='D2'||datum.id=='E'||datum.id=='F'"}],"mark":{"type":"line","strokeWidth":2.5,"color":"#ff0000"},
 "encoding":{"y":{"field":"p","type":"quantitative","scale":{"domain":[1.05089,1.06687],"nice":false,"zero":false},"axis":{"orient":"right","values":[1.0515,1.054,1.0565,1.059,1.0615,1.064,1.0665],"labelExpr":"abs(datum.value-1.054)<0.00001?'':format(datum.value,'.4f')","labelOverlap":false,"title":null}},"detail":{"field":"id"}}},
{"data":{"name":"sig"},"transform":[{"filter":"datum.k=='dn'"}],"mark":{"type":"point","shape":"M-0.4,-1L0.4,-1L0.4,0L1,0L0,1L-1,0L-0.4,0Z","filled":true,"size":150,"color":"#ff0000","opacity":1},
 "encoding":{"y":{"field":"p","type":"quantitative","scale":{"domain":[1.05089,1.06687],"nice":false,"zero":false},"axis":{"orient":"right","values":[1.0515,1.054,1.0565,1.059,1.0615,1.064,1.0665],"labelExpr":"abs(datum.value-1.054)<0.00001?'':format(datum.value,'.4f')","labelOverlap":false,"title":null}}}},
{"data":{"name":"sig"},"transform":[{"filter":"datum.k=='up'||datum.k=='upg'"}],"mark":{"type":"point","shape":"M-0.4,1L0.4,1L0.4,0L1,0L0,-1L-1,0L-0.4,0Z","filled":true,"size":150,"opacity":1},
 "encoding":{"y":{"field":"p","type":"quantitative","scale":{"domain":[1.05089,1.06687],"nice":false,"zero":false},"axis":{"orient":"right","values":[1.0515,1.054,1.0565,1.059,1.0615,1.064,1.0665],"labelExpr":"abs(datum.value-1.054)<0.00001?'':format(datum.value,'.4f')","labelOverlap":false,"title":null}},
 "color":{"condition":{"test":"datum.k=='upg'","value":"#22cc22"},"value":"#0000ff"}}},
{"data":{"name":"sig"},"transform":[{"filter":"datum.k=='dotg'||datum.k=='doty'"}],"mark":{"type":"point","shape":"circle","filled":true,"size":80,"opacity":1},
 "encoding":{"y":{"field":"p","type":"quantitative","scale":{"domain":[1.05089,1.06687],"nice":false,"zero":false},"axis":{"orient":"right","values":[1.0515,1.054,1.0565,1.059,1.0615,1.064,1.0665],"labelExpr":"abs(datum.value-1.054)<0.00001?'':format(datum.value,'.4f')","labelOverlap":false,"title":null}},
 "color":{"condition":{"test":"datum.k=='doty'","value":"#ffff00"},"value":"#22aa22"}}},
{"data":{"values":[{"i":93.73,"p":1.0597}]},"mark":{"type":"point","shape":"diamond","filled":true,"size":60,"color":"#ff2020","stroke":"#ffffff","strokeWidth":1,"opacity":1},
 "encoding":{"y":{"field":"p","type":"quantitative","scale":{"domain":[1.05089,1.06687],"nice":false,"zero":false},"axis":{"orient":"right","values":[1.0515,1.054,1.0565,1.059,1.0615,1.064,1.0665],"labelExpr":"abs(datum.value-1.054)<0.00001?'':format(datum.value,'.4f')","labelOverlap":false,"title":null}}}},
{"data":{"values":[{"i":114.45,"p":1.05432}]},"mark":{"type":"point","shape":"triangle-left","filled":true,"size":40,"color":"#ffa500","opacity":1},
 "encoding":{"y":{"field":"p","type":"quantitative","scale":{"domain":[1.05089,1.06687],"nice":false,"zero":false},"axis":{"orient":"right","values":[1.0515,1.054,1.0565,1.059,1.0615,1.064,1.0665],"labelExpr":"abs(datum.value-1.054)<0.00001?'':format(datum.value,'.4f')","labelOverlap":false,"title":null}}}},
{"data":{"values":[{"i":93.55,"p":1.05963},{"i":114.3,"p":1.05425}]},"mark":{"type":"point","shape":"M-1,0C-1,-0.434,-0.5523,-0.786,0,-0.786C0.5523,-0.786,1,-0.434,1,0C1,0.434,0.5523,0.786,0,0.786C-0.5523,0.786,-1,0.434,-1,0Z","filled":false,"size":784,"color":"#ffff00","strokeWidth":2.5,"opacity":1},
 "encoding":{"y":{"field":"p","type":"quantitative","scale":{"domain":[1.05089,1.06687],"nice":false,"zero":false},"axis":{"orient":"right","values":[1.0515,1.054,1.0565,1.059,1.0615,1.064,1.0665],"labelExpr":"abs(datum.value-1.054)<0.00001?'':format(datum.value,'.4f')","labelOverlap":false,"title":null}}}},
{"data":{"values":[{"i":93.77,"p":1.06471,"t":"Daily R1"},{"i":93.7,"p":1.05993,"t":"Daily Pivot"},{"i":93.8,"p":1.05408,"t":"Daily S1"}]},"mark":{"type":"text","fontSize":12.5,"color":"#5f5fd0"},
 "encoding":{"y":{"field":"p","type":"quantitative","scale":{"domain":[1.05089,1.06687],"nice":false,"zero":false},"axis":{"orient":"right","values":[1.0515,1.054,1.0565,1.059,1.0615,1.064,1.0665],"labelExpr":"abs(datum.value-1.054)<0.00001?'':format(datum.value,'.4f')","labelOverlap":false,"title":null}},"text":{"field":"t"}}},
{"data":{"values":[{"i":63.0,"p":1.05532,"t":"Идеальный вход в"},{"i":63.0,"p":1.054,"t":"рынок!!!"}]},"mark":{"type":"text","fontSize":13,"fontWeight":"bold","color":"#f51b48"},
 "encoding":{"y":{"field":"p","type":"quantitative","scale":{"domain":[1.05089,1.06687],"nice":false,"zero":false},"axis":{"orient":"right","values":[1.0515,1.054,1.0565,1.059,1.0615,1.064,1.0665],"labelExpr":"abs(datum.value-1.054)<0.00001?'':format(datum.value,'.4f')","labelOverlap":false,"title":null}},"text":{"field":"t"}}},
{"data":{"values":[{"i":0.47,"p":1.06643,"t":"USDCHF,M15  1.0531 1.0541 1.0526 1.0537"}]},"mark":{"type":"text","fontSize":11,"align":"left","color":"#1a1a8c"},
 "encoding":{"y":{"field":"p","type":"quantitative","scale":{"domain":[1.05089,1.06687],"nice":false,"zero":false},"axis":{"orient":"right","values":[1.0515,1.054,1.0565,1.059,1.0615,1.064,1.0665],"labelExpr":"abs(datum.value-1.054)<0.00001?'':format(datum.value,'.4f')","labelOverlap":false,"title":null}},"text":{"field":"t"}}},
{"data":{"values":[{"i":150.9,"p":1.06639,"t":"expert ☺"}]},"mark":{"type":"text","fontSize":10,"color":"#2a2aa8"},
 "encoding":{"y":{"field":"p","type":"quantitative","scale":{"domain":[1.05089,1.06687],"nice":false,"zero":false},"axis":{"orient":"right","values":[1.0515,1.054,1.0565,1.059,1.0615,1.064,1.0665],"labelExpr":"abs(datum.value-1.054)<0.00001?'':format(datum.value,'.4f')","labelOverlap":false,"title":null}},"text":{"field":"t"}}},
{"data":{"values":[{"i":139.0,"p":1.06553,"t":"1.0636"},{"i":151.4,"p":1.06553,"t":"113"}]},"mark":{"type":"text","fontSize":12,"color":"#ffffff"},
 "encoding":{"y":{"field":"p","type":"quantitative","scale":{"domain":[1.05089,1.06687],"nice":false,"zero":false},"axis":{"orient":"right","values":[1.0515,1.054,1.0565,1.059,1.0615,1.064,1.0665],"labelExpr":"abs(datum.value-1.054)<0.00001?'':format(datum.value,'.4f')","labelOverlap":false,"title":null}},"text":{"field":"t"}}},
{"data":{"values":[{"i":144.2,"p":1.06329,"t":"1.0537"}]},"mark":{"type":"text","fontSize":39,"color":"#ff0000"},
 "encoding":{"y":{"field":"p","type":"quantitative","scale":{"domain":[1.05089,1.06687],"nice":false,"zero":false},"axis":{"orient":"right","values":[1.0515,1.054,1.0565,1.059,1.0615,1.064,1.0665],"labelExpr":"abs(datum.value-1.054)<0.00001?'':format(datum.value,'.4f')","labelOverlap":false,"title":null}},"text":{"field":"t"}}},
{"data":{"values":[{"i":139.0,"p":1.06131,"t":"1.0523"}]},"mark":{"type":"text","fontSize":12,"color":"#ffff00"},
 "encoding":{"y":{"field":"p","type":"quantitative","scale":{"domain":[1.05089,1.06687],"nice":false,"zero":false},"axis":{"orient":"right","values":[1.0515,1.054,1.0565,1.059,1.0615,1.064,1.0665],"labelExpr":"abs(datum.value-1.054)<0.00001?'':format(datum.value,'.4f')","labelOverlap":false,"title":null}},"text":{"field":"t"}}},
{"data":{"values":[{"i":137.8,"p":1.05963,"t":"M1"},{"i":140.5,"p":1.05963,"t":"M5"},{"i":143.1,"p":1.05963,"t":"M15"},{"i":146.0,"p":1.05963,"t":"M30"},{"i":148.35,"p":1.05963,"t":"H1"},{"i":151.9,"p":1.05963,"t":"H4"},{"i":136.4,"p":1.05886,"t":"CCi"},{"i":136.4,"p":1.05819,"t":"BB"},{"i":136.4,"p":1.05744,"t":"TR"},{"i":136.4,"p":1.05674,"t":"BS"},{"i":136.4,"p":1.05594,"t":"CC"}]},"mark":{"type":"text","fontSize":9.5,"color":"#b4b4cc"},
 "encoding":{"y":{"field":"p","type":"quantitative","scale":{"domain":[1.05089,1.06687],"nice":false,"zero":false},"axis":{"orient":"right","values":[1.0515,1.054,1.0565,1.059,1.0615,1.064,1.0665],"labelExpr":"abs(datum.value-1.054)<0.00001?'':format(datum.value,'.4f')","labelOverlap":false,"title":null}},"text":{"field":"t"}}},
{"data":{"values":[{"i":139.43,"p":1.05886,"t":"7-127-186"}]},"mark":{"type":"text","fontSize":9.5,"align":"left","color":"#ffa500"},
 "encoding":{"y":{"field":"p","type":"quantitative","scale":{"domain":[1.05089,1.06687],"nice":false,"zero":false},"axis":{"orient":"right","values":[1.0515,1.054,1.0565,1.059,1.0615,1.064,1.0665],"labelExpr":"abs(datum.value-1.054)<0.00001?'':format(datum.value,'.4f')","labelOverlap":false,"title":null}},"text":{"field":"t"}}},
{"data":{"values":[{"i":145.3,"p":1.05886,"t":"-184-220-233"}]},"mark":{"type":"text","fontSize":9.5,"align":"left","color":"#ffff00"},
 "encoding":{"y":{"field":"p","type":"quantitative","scale":{"domain":[1.05089,1.06687],"nice":false,"zero":false},"axis":{"orient":"right","values":[1.0515,1.054,1.0565,1.059,1.0615,1.064,1.0665],"labelExpr":"abs(datum.value-1.054)<0.00001?'':format(datum.value,'.4f')","labelOverlap":false,"title":null}},"text":{"field":"t"}}},
{"data":{"name":"dash"},"mark":{"type":"point","shape":"M-1,-0.25L1,-0.25L1,0.25L-1,0.25Z","filled":true,"size":121,"opacity":1},
 "encoding":{"y":{"field":"p","type":"quantitative","scale":{"domain":[1.05089,1.06687],"nice":false,"zero":false},"axis":{"orient":"right","values":[1.0515,1.054,1.0565,1.059,1.0615,1.064,1.0665],"labelExpr":"abs(datum.value-1.054)<0.00001?'':format(datum.value,'.4f')","labelOverlap":false,"title":null}},
 "color":{"condition":[{"test":"datum.s=='n'","value":"#c8c8c8"},{"test":"datum.s=='u'","value":"#0000ff"},{"test":"datum.s=='o'","value":"#ff8c00"},{"test":"datum.s=='y'","value":"#ffff00"}],"value":"#ff0000"}}},
{"data":{"name":"levels"},"mark":{"type":"point","shape":"M-1,-0.3L1,-0.3L1,0.3L-1,0.3Z","filled":true,"size":1369,"xOffset":19.5,"opacity":1},
 "encoding":{"x":{"value":"width"},"y":{"field":"p","type":"quantitative","scale":{"domain":[1.05089,1.06687],"nice":false,"zero":false},"axis":{"orient":"right","values":[1.0515,1.054,1.0565,1.059,1.0615,1.064,1.0665],"labelExpr":"abs(datum.value-1.054)<0.00001?'':format(datum.value,'.4f')","labelOverlap":false,"title":null}},
 "color":{"condition":[{"test":"datum.name=='open'","value":"#b000b0"},{"test":"datum.name=='bid'","value":"#14148c"}],"value":"#1a6e64"}}},
{"data":{"name":"levels"},"mark":{"type":"text","fontSize":9.5,"dx":19.5,"font":"Liberation Sans"},
 "encoding":{"x":{"value":"width"},"y":{"field":"p","type":"quantitative","scale":{"domain":[1.05089,1.06687],"nice":false,"zero":false},"axis":{"orient":"right","values":[1.0515,1.054,1.0565,1.059,1.0615,1.064,1.0665],"labelExpr":"abs(datum.value-1.054)<0.00001?'':format(datum.value,'.4f')","labelOverlap":false,"title":null}},"text":{"field":"p","type":"quantitative","format":".4f"},
 "color":{"condition":{"test":"datum.name=='open'","value":"#1a001a"},"value":"#dcdcdc"}}}
]
},
{
"width":1233,"height":53,
"encoding":{"x":{"field":"i","type":"quantitative","scale":{"domain":[0,153.9],"nice":false,"zero":false},"axis":null}},
"layer":[
{"data":{"name":"bars"},"transform":[{"filter":"isValid(datum.m)"},{"fold":["H4","H1","M30","M15"],"as":["key","st"]},{"lookup":"key","from":{"data":{"name":"rows"},"key":"key","fields":["lv"]}}],
 "mark":{"type":"point","shape":"square","filled":false,"size":25,"strokeWidth":2,"opacity":1,"clip":true},
 "encoding":{"y":{"field":"lv","type":"quantitative","scale":{"domain":[0,3],"nice":false,"zero":false},"axis":{"orient":"right","values":[0,3],"format":"d","labelFlush":true,"labelFlushOffset":-3,"title":null}},
 "color":{"condition":{"test":"datum.st=='R'","value":"#ff0000"},"value":"#0000ff"}}},
{"data":{"values":[{"i":116.83,"v":1.715,"t":"H4"},{"i":116.83,"v":1.228,"t":"H1"},{"i":116.83,"v":0.719,"t":"M30"},{"i":116.83,"v":0.243,"t":"M15"}]},"mark":{"type":"text","fontSize":9,"color":"#ffffff"},
 "encoding":{"y":{"field":"v","type":"quantitative","scale":{"domain":[0,3],"nice":false,"zero":false},"axis":{"orient":"right","values":[0,3],"format":"d","labelFlush":true,"labelFlushOffset":-3,"title":null}},"text":{"field":"t"}}},
{"data":{"values":[{"i":0.47,"v":2.417,"t":"NLMA-MTF-4 (M15,M30,H1,H4)"}]},"mark":{"type":"text","fontSize":9.5,"align":"left","color":"#14147c"},
 "encoding":{"y":{"field":"v","type":"quantitative","scale":{"domain":[0,3],"nice":false,"zero":false},"axis":{"orient":"right","values":[0,3],"format":"d","labelFlush":true,"labelFlushOffset":-3,"title":null}},"text":{"field":"t"}}}
]
},
{
"width":1233,"height":51,
"encoding":{"x":{"field":"i","type":"quantitative","scale":{"domain":[0,153.9],"nice":false,"zero":false},"axis":null}},
"layer":[
{"data":{"name":"bars"},"transform":[{"filter":"isValid(datum.m)"},{"fold":["P336","P84","P21","P7"],"as":["key","st"]},{"lookup":"key","from":{"data":{"name":"rows"},"key":"key","fields":["lv"]}}],
 "mark":{"type":"point","shape":"square","filled":false,"size":25,"strokeWidth":2,"opacity":1,"clip":true},
 "encoding":{"y":{"field":"lv","type":"quantitative","scale":{"domain":[0,3],"nice":false,"zero":false},"axis":{"orient":"right","values":[0,3],"format":"d","labelFlush":true,"labelFlushOffset":-3,"title":null}},
 "color":{"condition":{"test":"datum.st=='R'","value":"#ff0000"},"value":"#0000ff"}}},
{"data":{"values":[{"i":116.83,"v":1.606,"t":"336"},{"i":116.83,"v":1.159,"t":"84"},{"i":116.83,"v":0.665,"t":"21"},{"i":116.83,"v":0.177,"t":"7"}]},"mark":{"type":"text","fontSize":9,"color":"#ffffff"},
 "encoding":{"y":{"field":"v","type":"quantitative","scale":{"domain":[0,3],"nice":false,"zero":false},"axis":{"orient":"right","values":[0,3],"format":"d","labelFlush":true,"labelFlushOffset":-3,"title":null}},"text":{"field":"t"}}},
{"data":{"values":[{"i":0.47,"v":2.335,"t":"NLMA-MP-4 (7,21,84,336)"}]},"mark":{"type":"text","fontSize":9.5,"align":"left","color":"#14147c"},
 "encoding":{"y":{"field":"v","type":"quantitative","scale":{"domain":[0,3],"nice":false,"zero":false},"axis":{"orient":"right","values":[0,3],"format":"d","labelFlush":true,"labelFlushOffset":-3,"title":null}},"text":{"field":"t"}}},
{"data":{"values":[{"i":140.86,"v":5.765,"t":"Отбились по стопу!((("},{"i":140.86,"v":4.747,"t":"К сожалению!"},{"i":140.86,"v":3.765,"t":"Буду настраивать"},{"i":140.86,"v":2.824,"t":"советник!"}]},"mark":{"type":"text","fontSize":13,"fontWeight":"bold","color":"#f51b48"},
 "encoding":{"y":{"field":"v","type":"quantitative","scale":{"domain":[0,3],"nice":false,"zero":false},"axis":{"orient":"right","values":[0,3],"format":"d","labelFlush":true,"labelFlushOffset":-3,"title":null}},"text":{"field":"t"}}},
{"data":{"values":[{"i":130.06,"v":4.941},{"i":117.7,"v":8.129}]},"mark":{"type":"line","strokeWidth":4.5,"color":"#1fa0f0"},
 "encoding":{"y":{"field":"v","type":"quantitative","scale":{"domain":[0,3],"nice":false,"zero":false},"axis":{"orient":"right","values":[0,3],"format":"d","labelFlush":true,"labelFlushOffset":-3,"title":null}}}},
{"data":{"values":[{"i":116.83,"v":8.353}]},"mark":{"type":"point","shape":"M0,0L0.6,1.6L-0.6,1.6Z","filled":true,"size":400,"angle":298.7,"color":"#1fa0f0","opacity":1},
 "encoding":{"y":{"field":"v","type":"quantitative","scale":{"domain":[0,3],"nice":false,"zero":false},"axis":{"orient":"right","values":[0,3],"format":"d","labelFlush":true,"labelFlushOffset":-3,"title":null}}}}
]
},
{
"width":1233,"height":80,
"encoding":{"x":{"field":"i","type":"quantitative","scale":{"domain":[0,153.9],"nice":false,"zero":false},"axis":null}},
"layer":[
{"data":{"values":[{"i":0.47,"v":0.000405,"t":"MACD_M9020_InColor(12,26,9) (Period_M30) -0.00140 -0.00075 0.00000 -0.00065"}]},"mark":{"type":"text","fontSize":9.5,"align":"left","color":"#14147c"},
 "encoding":{"y":{"field":"v","type":"quantitative","scale":{"domain":[-0.00152,0.00068],"nice":false,"zero":false},"axis":{"orient":"right","values":[-0.00152,0,0.00068],"labelExpr":"datum.value==0?'0.00':format(datum.value,'.5f')","labelFlush":true,"labelFlushOffset":-3,"labelFontSize":8,"labelPadding":0,"labelOverlap":false,"title":null}},"text":{"field":"t"}}},
{"data":{"name":"bars"},"transform":[{"filter":"isValid(datum.m)"}],"mark":{"type":"bar","width":4,"clip":true},
 "encoding":{"y":{"field":"m","type":"quantitative","scale":{"domain":[-0.00152,0.00068],"nice":false,"zero":false},"axis":{"orient":"right","values":[-0.00152,0,0.00068],"labelExpr":"datum.value==0?'0.00':format(datum.value,'.5f')","labelFlush":true,"labelFlushOffset":-3,"labelFontSize":8,"labelPadding":0,"labelOverlap":false,"title":null}},"y2":{"datum":0},
 "color":{"condition":{"test":"datum.m>=0","value":"#0000ff"},"value":"#ff0000"}}},
{"data":{"name":"mc"},"transform":[{"filter":"datum.id=='macd'"}],"mark":{"type":"line","strokeWidth":1,"color":"#0000ff"},
 "encoding":{"y":{"field":"v","type":"quantitative","scale":{"domain":[-0.00152,0.00068],"nice":false,"zero":false},"axis":{"orient":"right","values":[-0.00152,0,0.00068],"labelExpr":"datum.value==0?'0.00':format(datum.value,'.5f')","labelFlush":true,"labelFlushOffset":-3,"labelFontSize":8,"labelPadding":0,"labelOverlap":false,"title":null}}}},
{"data":{"name":"mc"},"transform":[{"filter":"datum.id=='sig'"}],"mark":{"type":"line","strokeWidth":1,"color":"#ff0000"},
 "encoding":{"y":{"field":"v","type":"quantitative","scale":{"domain":[-0.00152,0.00068],"nice":false,"zero":false},"axis":{"orient":"right","values":[-0.00152,0,0.00068],"labelExpr":"datum.value==0?'0.00':format(datum.value,'.5f')","labelFlush":true,"labelFlushOffset":-3,"labelFontSize":8,"labelPadding":0,"labelOverlap":false,"title":null}}}},
{"data":{"values":[{"a":1,"i":72.26,"v":0.0050525},{"a":1,"i":90.37,"v":0.00739},{"a":2,"i":72.26,"v":0.0050525},{"a":2,"i":91.32,"v":0.0002675}]},"mark":{"type":"line","strokeWidth":4.5,"color":"#1fa0f0"},
 "encoding":{"y":{"field":"v","type":"quantitative","scale":{"domain":[-0.00152,0.00068],"nice":false,"zero":false},"axis":{"orient":"right","values":[-0.00152,0,0.00068],"labelExpr":"datum.value==0?'0.00':format(datum.value,'.5f')","labelFlush":true,"labelFlushOffset":-3,"labelFontSize":8,"labelPadding":0,"labelOverlap":false,"title":null}},"detail":{"field":"a"}}},
{"data":{"values":[{"i":91.24,"v":0.0075}]},"mark":{"type":"point","shape":"M0,0L0.6,1.6L-0.6,1.6Z","filled":true,"size":400,"angle":59.65,"color":"#1fa0f0","opacity":1},
 "encoding":{"y":{"field":"v","type":"quantitative","scale":{"domain":[-0.00152,0.00068],"nice":false,"zero":false},"axis":{"orient":"right","values":[-0.00152,0,0.00068],"labelExpr":"datum.value==0?'0.00':format(datum.value,'.5f')","labelFlush":true,"labelFlushOffset":-3,"labelFontSize":8,"labelPadding":0,"labelOverlap":false,"title":null}}}},
{"data":{"values":[{"i":91.99,"v":0.0001025}]},"mark":{"type":"point","shape":"M0,0L0.6,1.6L-0.6,1.6Z","filled":true,"size":400,"angle":138.7,"color":"#1fa0f0","opacity":1},
 "encoding":{"y":{"field":"v","type":"quantitative","scale":{"domain":[-0.00152,0.00068],"nice":false,"zero":false},"axis":{"orient":"right","values":[-0.00152,0,0.00068],"labelExpr":"datum.value==0?'0.00':format(datum.value,'.5f')","labelFlush":true,"labelFlushOffset":-3,"labelFontSize":8,"labelPadding":0,"labelOverlap":false,"title":null}}}}
]
},
{
"width":1233,"height":79,
"encoding":{"x":{"field":"i","type":"quantitative","scale":{"domain":[0,153.9],"nice":false,"zero":false},"axis":{"orient":"bottom","values":[0,8,16,24,32,40,48,56,64,72,80,88,96,104,112],"labelExpr":"['6 Jul 2010','6 Jul 13:45','6 Jul 15:45','6 Jul 17:45','6 Jul 19:45','6 Jul 21:45','6 Jul 23:45','7 Jul 01:45','7 Jul 03:45','7 Jul 05:45','7 Jul 07:45','7 Jul 09:45','7 Jul 11:45','7 Jul 13:45','7 Jul 15:45'][round(datum.value/8)]","labelAlign":"left","labelOverlap":false,"labelFlush":false,"tickSize":4,"labelPadding":2,"title":null}}},
"layer":[
{"data":{"values":[{"i":0.47,"v":0.49,"t":"SMA_Angle(30,0.25000000,2,0) 0.000000 -1.612988 0.000000"}]},"mark":{"type":"text","fontSize":9.5,"align":"left","color":"#14147c"},
 "encoding":{"y":{"field":"v","type":"quantitative","scale":{"domain":[-1.72898,0.822989],"nice":false,"zero":false},"axis":{"orient":"right","values":[-1.72898,0,0.822989],"labelExpr":"datum.value==0?'0.00':(datum.value>0?'0.822989':'-1.72898')","labelFlush":true,"labelFlushOffset":-3,"labelFontSize":8,"labelPadding":0,"labelOverlap":false,"title":null}},"text":{"field":"t"}}},
{"data":{"name":"bars"},"transform":[{"filter":"isValid(datum.a)"}],"mark":{"type":"bar","width":4,"clip":true},
 "encoding":{"y":{"field":"a","type":"quantitative","scale":{"domain":[-1.72898,0.822989],"nice":false,"zero":false},"axis":{"orient":"right","values":[-1.72898,0,0.822989],"labelExpr":"datum.value==0?'0.00':(datum.value>0?'0.822989':'-1.72898')","labelFlush":true,"labelFlushOffset":-3,"labelFontSize":8,"labelPadding":0,"labelOverlap":false,"title":null}},"y2":{"datum":0},
 "color":{"condition":[{"test":"datum.a>0.25","value":"#0000ff"},{"test":"datum.a<-0.25","value":"#ff0000"}],"value":"#ffff00"}}},
{"data":{"values":[{"i":93.61,"v":2.535}]},"mark":{"type":"point","shape":"M0,-1C0.0601,-1,0.1088,-0.5523,0.1088,0C0.1088,0.5523,0.0601,1,0,1C-0.0601,1,-0.1088,0.5523,-0.1088,0C-0.1088,-0.5523,-0.0601,-1,0,-1Z","filled":false,"size":86436,"color":"#ffff00","strokeWidth":2.5,"opacity":1},
 "encoding":{"y":{"field":"v","type":"quantitative","scale":{"domain":[-1.72898,0.822989],"nice":false,"zero":false},"axis":{"orient":"right","values":[-1.72898,0,0.822989],"labelExpr":"datum.value==0?'0.00':(datum.value>0?'0.822989':'-1.72898')","labelFlush":true,"labelFlushOffset":-3,"labelFontSize":8,"labelPadding":0,"labelOverlap":false,"title":null}}}}
]
}
]
}
